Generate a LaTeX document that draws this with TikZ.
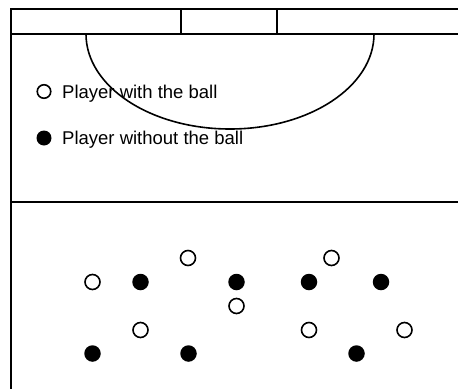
\documentclass[tikz,border=0pt]{standalone}
\usepackage{fontspec}
\setmainfont{Liberation Sans}
\usepackage{tikz}
\usetikzlibrary{positioning}

\begin{document}
\begin{tikzpicture}[x=1pt, y=-1pt,
    line/.style={draw=black, line width=2pt},
    withball/.style={circle, draw=black, fill=white, line width=1.6pt, inner sep=0pt, minimum size=15pt},
    noball/.style={circle, fill=black, inner sep=0pt, minimum size=16.5pt},
    legendtext/.style={font=\fontsize{18.5}{22}\selectfont, inner sep=0pt, anchor=base west}
  ]
  \useasboundingbox (0,0) rectangle (458,389);

  % Field lines
  \draw[line] (458,9) -- (11,9) -- (11,389);
  \draw[line] (11,34) -- (458,34);
  \draw[line] (11,202) -- (458,202);
  \draw[line] (181,34) -- (181,9);
  \draw[line] (277,34) -- (277,9);

  % Legend
  \node[withball, minimum size=13.5pt] (legwith) at (44,91.5) {};
  \node[legendtext] (legwithtxt) at (62,98) {Player with the ball};
  \node[noball, minimum size=15pt] (legwithout) at (44,138) {};
  \node[legendtext] (legwithouttxt) at (62,144.5) {Player without the ball};

  % Semicircle
  \draw[line width=1.6pt] (86,34) arc[start angle=180, end angle=360, x radius=144pt, y radius=95pt];

  % Players with the ball
  \node[withball] (with1) at (188,258) {};
  \node[withball] (with2) at (331.5,258) {};
  \node[withball] (with3) at (92.5,282) {};
  \node[withball] (with4) at (236.5,306) {};
  \node[withball] (with5) at (140.5,330) {};
  \node[withball] (with6) at (309,330) {};
  \node[withball] (with7) at (404.5,330) {};

  % Players without the ball
  \node[noball] (without1) at (140.5,282) {};
  \node[noball] (without2) at (236.5,282) {};
  \node[noball] (without3) at (309,282) {};
  \node[noball] (without4) at (381,282) {};
  \node[noball] (without5) at (92.5,353.5) {};
  \node[noball] (without6) at (188.5,353.5) {};
  \node[noball] (without7) at (356.5,353.5) {};
\end{tikzpicture}
\end{document}
